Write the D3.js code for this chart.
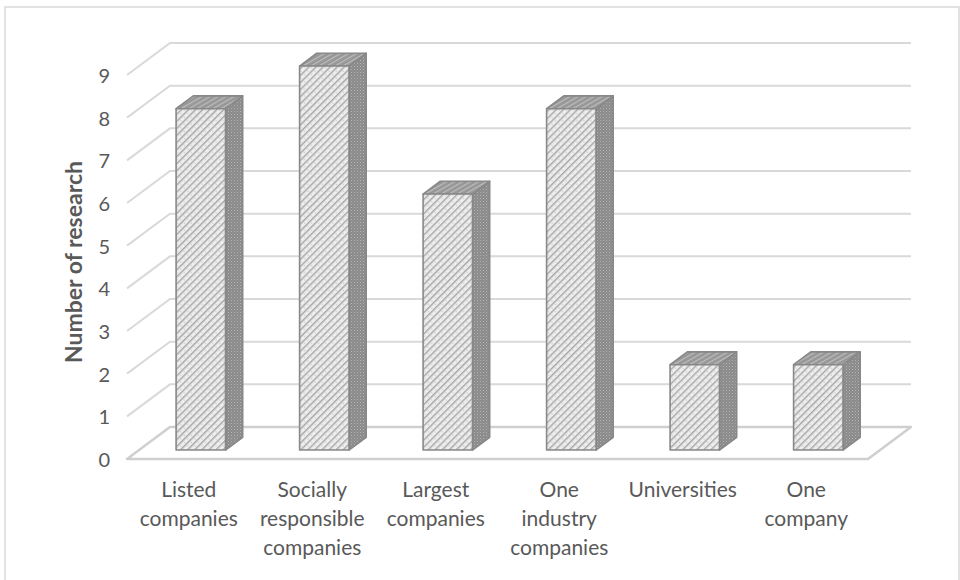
<!DOCTYPE html>
<html><head><meta charset="utf-8">
<script src="https://cdn.jsdelivr.net/npm/d3@7"></script>
<style>body{margin:0;background:#fff}svg{display:block}</style>
</head><body>
<svg id="c" width="960" height="580"></svg>
<script>
const categories = ["Listed companies","Socially responsible companies","Largest companies","One industry companies","Universities","One company"];
const labelLines = [["Listed","companies"],["Socially","responsible","companies"],["Largest","companies"],["One","industry","companies"],["Universities"],["One","company"]];
const values = [8, 9, 6, 8, 2, 2];
const yTicks = [0,1,2,3,4,5,6,7,8,9];
const yTitle = "Number of research";

const svg = d3.select("#c");
const font = "Lato, 'Open Sans', sans-serif";
const textColor = "#595959";
const D = {x: 43, y: -32};           // depth vector front->back
const x = d3.scaleBand().domain(categories).range([127, 868]);
const y = d3.scaleLinear().domain([0, 9]).range([459, 75]);
const barW = x.bandwidth() * 0.4;
const f0 = 0.28, fd = 0.4;           // bar depth position

// patterns
const defs = svg.append("defs");
const pf = defs.append("pattern").attr("id","pFront").attr("patternUnits","userSpaceOnUse")
  .attr("width",5).attr("height",5).attr("patternTransform","rotate(-45)");
pf.append("rect").attr("width",5).attr("height",5).attr("fill","#eeeeee");
pf.append("rect").attr("y",0).attr("width",5).attr("height",1.5).attr("fill","#a8a8a8");
pf.append("circle").attr("cx",2.5).attr("cy",3.2).attr("r",0.6).attr("fill","#c4c4c4");
const ps = defs.append("pattern").attr("id","pSide").attr("patternUnits","userSpaceOnUse")
  .attr("width",3).attr("height",3);
ps.append("rect").attr("width",3).attr("height",3).attr("fill","#8a8a8a");
ps.append("rect").attr("x",0).attr("y",0).attr("width",1).attr("height",1).attr("fill","#b4b4b4");
ps.append("rect").attr("x",1.5).attr("y",1.5).attr("width",1).attr("height",1).attr("fill","#a2a2a2");
const pt = defs.append("pattern").attr("id","pTop").attr("patternUnits","userSpaceOnUse")
  .attr("width",4).attr("height",4).attr("patternTransform","rotate(-30)");
pt.append("rect").attr("width",4).attr("height",4).attr("fill","#979797");
pt.append("rect").attr("width",4).attr("height",1.2).attr("fill","#bdbdbd");

// outer frame
svg.append("rect").attr("x",5).attr("y",7).attr("width",954).attr("height",580)
  .attr("fill","none").attr("stroke","#d9d9d9").attr("stroke-width",1.5);

const x0 = x.range()[0], x1 = x.range()[1];
// gridlines (back wall + left side diagonal)
const grid = svg.append("g");
yTicks.filter(t => t > 0).forEach(t => {
  const yb = y(t) + D.y;
  grid.append("path")
    .attr("d", `M${x0},${y(t)}L${x0 + D.x},${yb}L${x1 + D.x},${yb}`)
    .attr("fill","none").attr("stroke","#d9d9d9").attr("stroke-width",2);
});
// floor
svg.append("path")
  .attr("d", `M${x0},${y(0)}L${x0 + D.x},${y(0) + D.y}L${x1 + D.x},${y(0) + D.y}L${x1},${y(0)}Z`)
  .attr("fill","none").attr("stroke","#cfcfcf").attr("stroke-width",2.5).attr("stroke-linejoin","round");

// bars
const bars = svg.append("g");
categories.forEach((c, i) => {
  const v = values[i];
  const cx = x(c) + x.bandwidth() / 2;
  const L = cx - barW / 2 + f0 * D.x, R = L + barW;
  const yb = y(0) + f0 * D.y, yt = y(v) + f0 * D.y;
  const dx = fd * D.x, dy = fd * D.y;
  const g = bars.append("g").attr("stroke","#888888").attr("stroke-width",1.6).attr("stroke-linejoin","round");
  g.append("path").attr("d", `M${R},${yb}L${R + dx},${yb + dy}L${R + dx},${yt + dy}L${R},${yt}Z`).attr("fill","url(#pSide)");
  g.append("path").attr("d", `M${L},${yt}L${L + dx},${yt + dy}L${R + dx},${yt + dy}L${R},${yt}Z`).attr("fill","url(#pTop)");
  g.append("rect").attr("x", L).attr("y", yt).attr("width", barW).attr("height", yb - yt).attr("fill","url(#pFront)");
});

// y tick labels
svg.append("g").selectAll("text").data(yTicks).join("text")
  .attr("x", 110).attr("y", d => y(d) + 1).attr("dy","0.35em")
  .attr("text-anchor","end").attr("fill",textColor)
  .style("font-family",font).style("font-size","20px").text(d => d);

// y title
svg.append("text").attr("transform","translate(74,262) rotate(-90)")
  .attr("text-anchor","middle").attr("dy","0.35em").attr("fill",textColor)
  .style("font-family",font).style("font-size","23px").style("font-weight","bold").text(yTitle);

// x labels
const xl = svg.append("g");
categories.forEach((c, i) => {
  const t = xl.append("text").attr("x", x(c) + x.bandwidth() / 2).attr("y", 490)
    .attr("text-anchor","middle").attr("fill",textColor)
    .style("font-family",font).style("font-size","21px");
  labelLines[i].forEach((ln, j) => {
    t.append("tspan").attr("x", x(c) + x.bandwidth() / 2).attr("y", 490 + j * 29).attr("dy","0.35em").text(ln);
  });
});
</script>
</body></html>
